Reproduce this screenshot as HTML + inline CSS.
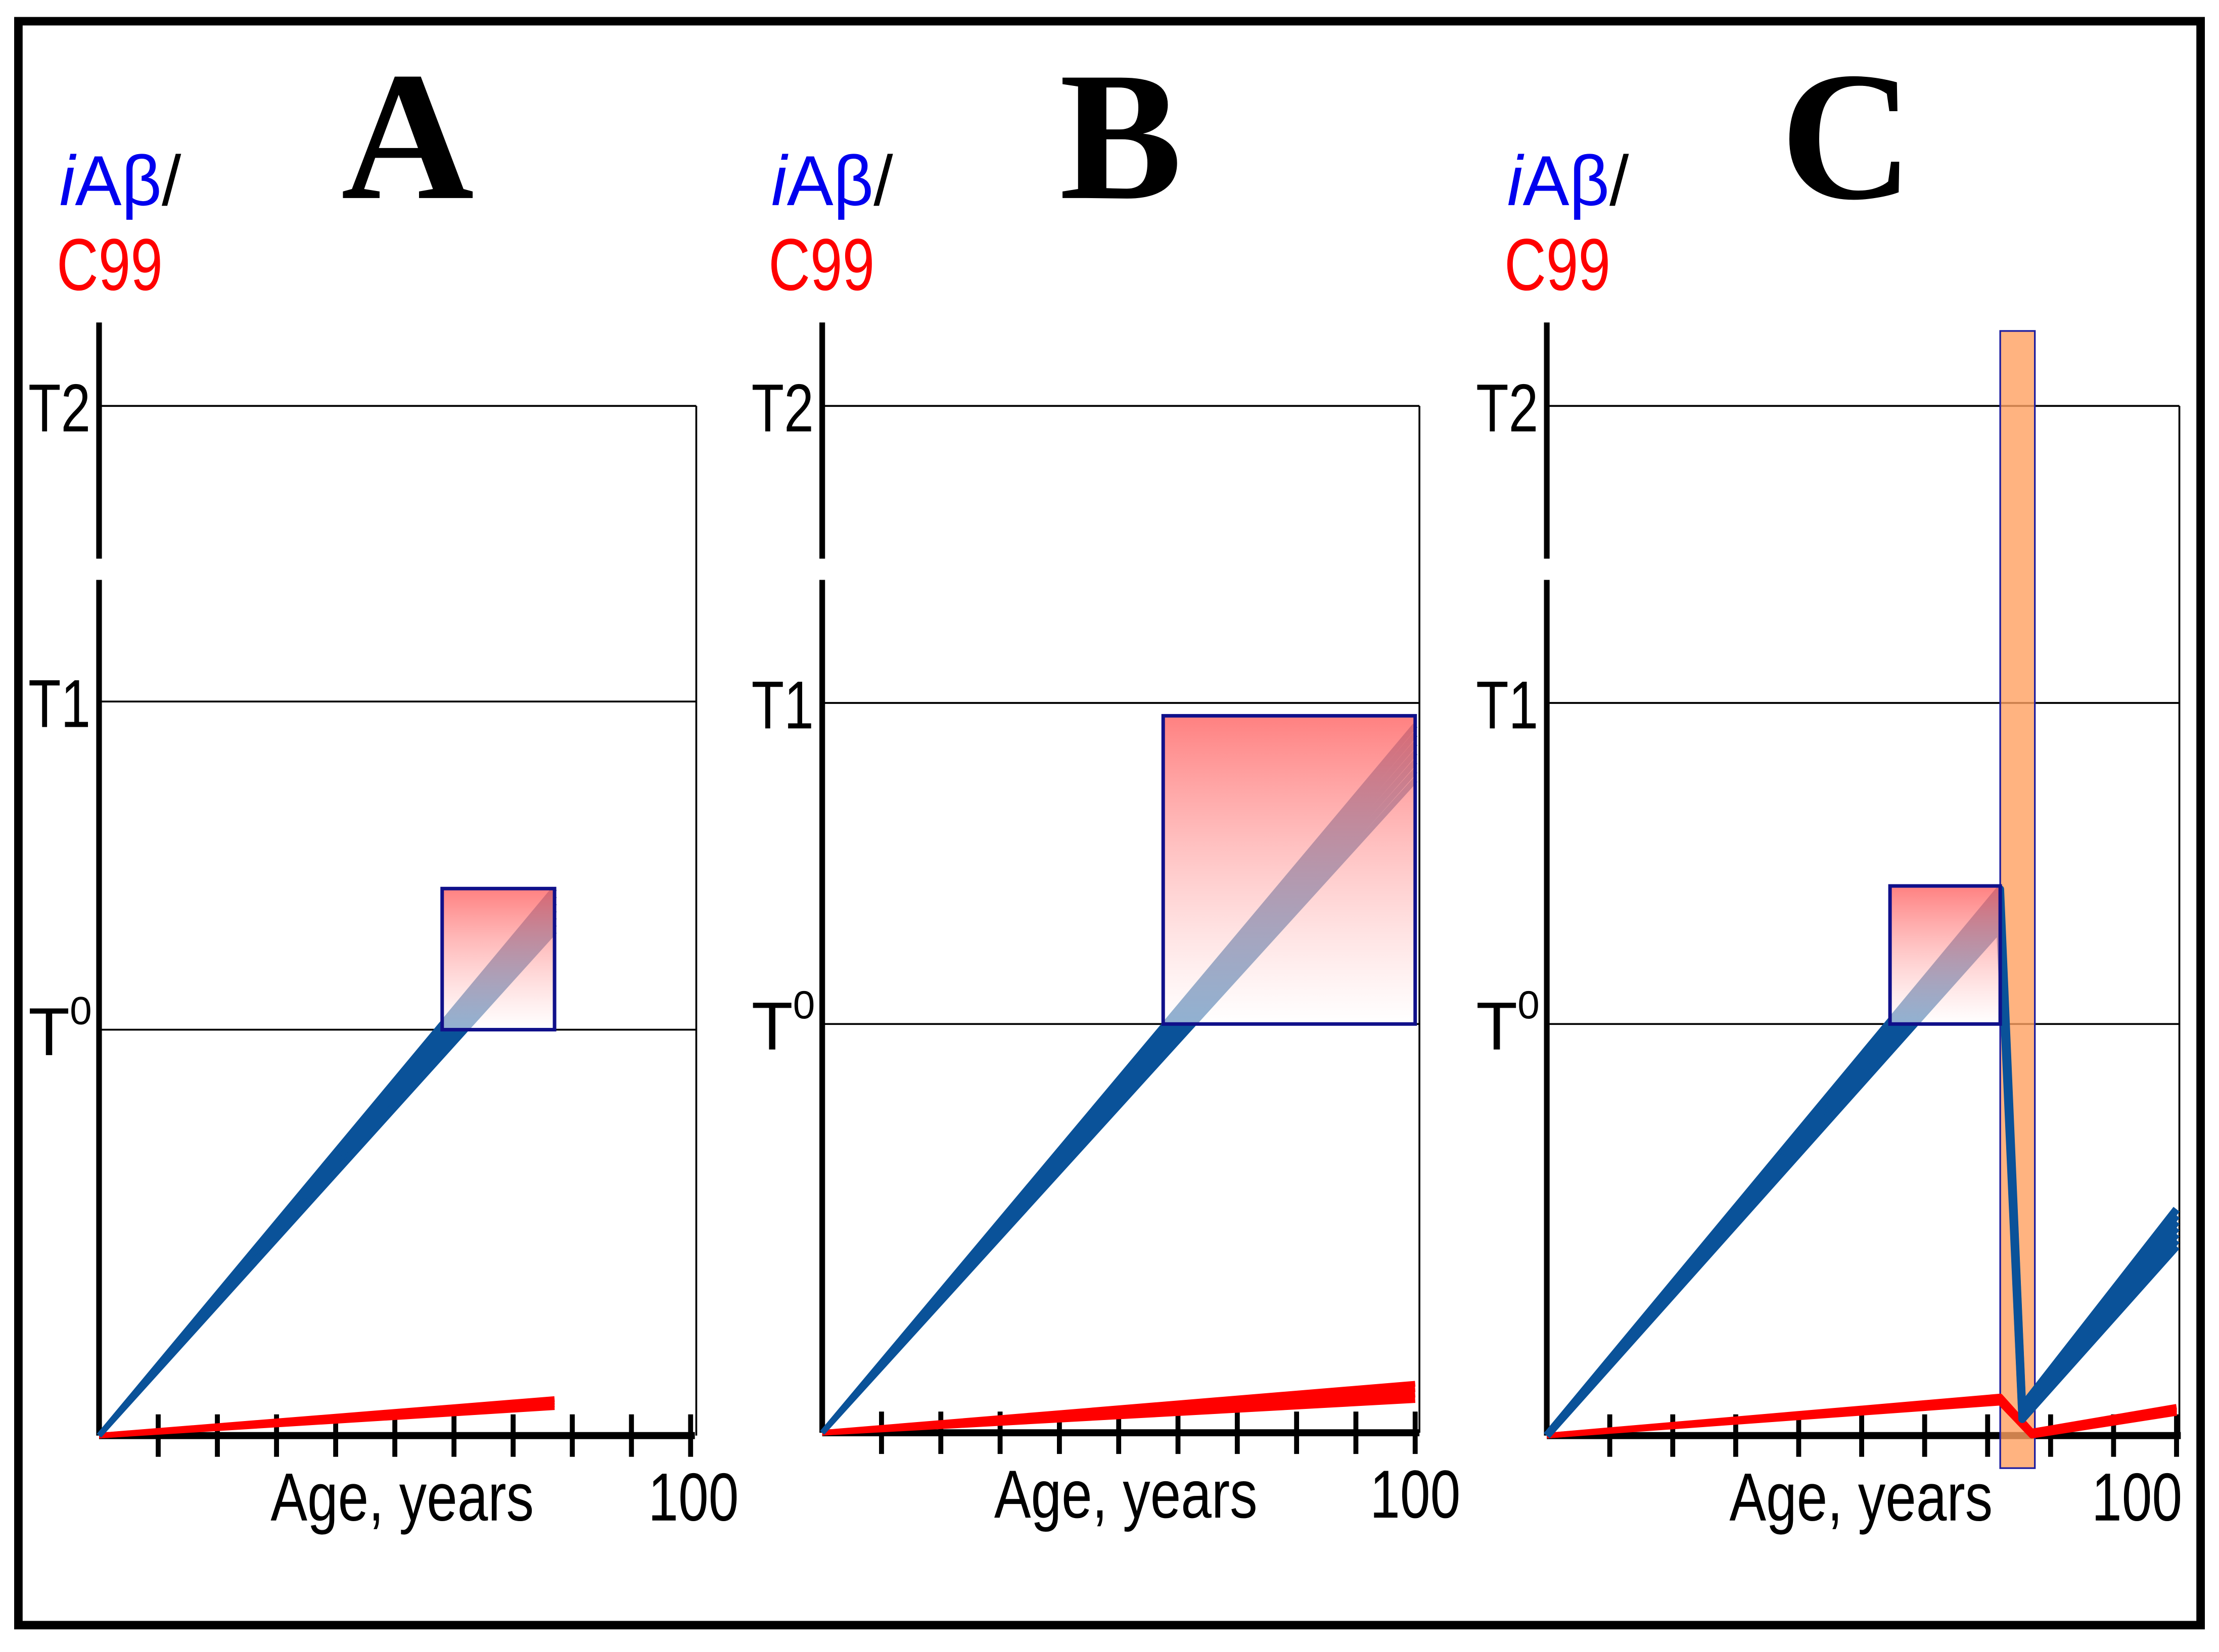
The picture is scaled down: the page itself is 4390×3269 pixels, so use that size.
<!DOCTYPE html>
<html><head><meta charset="utf-8"><style>
html,body{margin:0;padding:0;background:#fff;}
svg{display:block;}
text{font-family:"Liberation Sans","DejaVu Sans",sans-serif;}
</style></head><body>
<svg id="fig" width="4390" height="3269" viewBox="0 0 1568 1168" preserveAspectRatio="none" xmlns="http://www.w3.org/2000/svg">
<defs>
<linearGradient id="rg" x1="0" y1="0" x2="0" y2="1">
<stop offset="0" stop-color="#ff6a6a" stop-opacity="0.85"/>
<stop offset="1" stop-color="#ffffff" stop-opacity="0.55"/>
</linearGradient>
</defs>
<rect x="13" y="15" width="1542" height="1134" fill="none" stroke="#000" stroke-width="6"/>
<g id="panels"></g>
</svg>
<script>
// data arrays
const panelLetters = ["A","B","C"];
const tickAges = [10,20,30,40,50,60,70,80,90,100];
const levelNames = ["T0","T1","T2"];
const blueAgesA = [0,77], blueHiA = [0,1.43], blueLoA = [0,1.3];
const blueAgesB = [0,100], blueHiB = [0,1.93], blueLoB = [0,1.76];
const blueAgesC = [0,72,75.5,100], blueHiC = [0,1.42,0.07,0.55], blueLoC = [0,1.3,0.04,0.46];
const redAgesA = [0,77], redHiA = [0,0.09], redLoA = [0,0.07];
const redAgesB = [0,100], redHiB = [0,0.12], redLoB = [0,0.08];
const redAgesC = [0,72,77,100], redHiC = [0,0.095,0.01,0.07], redLoC = [0,0.08,0.0,0.055];
const boxAges = [[58,77],[57.5,100],[54.5,72]];
const boxVals = [[1,1.43],[1,1.96],[1,1.43]];
const treatAges = [72,77.5];

// layout (non-data)
const L = [
 {x0:70,x1:488,ax:1015,ly:[1015,728,496,287],right:492,title:288,lab:42,hx:458,bw:4},
 {x0:581,x1:1000,ax:1013,ly:[1013,724,497,287],right:1003,title:792,lab:545,hx:968,bw:4},
 {x0:1093,x1:1538,ax:1015,ly:[1015,724,497,287],right:1540,title:1305,lab:1065,hx:1478,bw:5.5}
];
const blue=[[blueAgesA,blueHiA,blueLoA],[blueAgesB,blueHiB,blueLoB],[blueAgesC,blueHiC,blueLoC]];
const red=[[redAgesA,redHiA,redLoA],[redAgesB,redHiB,redLoB],[redAgesC,redHiC,redLoC]];
const NS="http://www.w3.org/2000/svg";
const G=document.getElementById('panels');
function mk(tag,attrs,parent){const e=document.createElementNS(NS,tag);for(const k in attrs)e.setAttribute(k,attrs[k]);(parent||G).appendChild(e);return e;}
L.forEach((p,i)=>{
 const xs=a=>p.x0+(p.x1-p.x0)*a/100;
 const ys=v=>{const k=Math.min(Math.floor(v),2);return p.ly[k]-(v-k)*(p.ly[k]-p.ly[k+1]);};
 const g=mk('g',{});
 
 
 let t=mk('text',{x:p.title,y:140,'font-size':130,'font-weight':'bold','text-anchor':'middle',style:'font-family:"Liberation Serif",serif'},g);t.textContent=panelLetters[i];
 
 t=mk('text',{x:p.lab,y:145,'font-size':50,textLength:86,lengthAdjust:'spacingAndGlyphs'},g);
 t.innerHTML='<tspan fill="#0000ee" font-style="italic">i</tspan><tspan fill="#0000ee">Aβ</tspan><tspan fill="#000">/</tspan>';
 
 t=mk('text',{x:p.lab-2,y:205,'font-size':52,fill:'#ff0000',textLength:75,lengthAdjust:'spacingAndGlyphs'},g);t.textContent='C99';
 
 [1,2,3].forEach(k=>{
  const l=mk('line',{x1:p.x0,x2:p.right,y1:p.ly[k],y2:p.ly[k],stroke:'#000','stroke-width':1.3},g);
  
  const tx=mk('text',{x:p.x0-50,y:p.ly[k]+18,'font-size':48},g);
  if(k==1){tx.innerHTML='T<tspan font-size="28" dy="-22">0</tspan>';}else{tx.textContent=levelNames[k-1];tx.setAttribute('textLength',44);tx.setAttribute('lengthAdjust','spacingAndGlyphs');}
  
 });
 const rl=mk('line',{x1:p.right,x2:p.right,y1:p.ly[3],y2:p.ax,stroke:'#000','stroke-width':1.3},g);
 
 let ya=mk('line',{x1:p.x0,x2:p.x0,y1:228,y2:395,stroke:'#000','stroke-width':4},g);
 
 ya=mk('line',{x1:p.x0,x2:p.x0,y1:410,y2:p.ax,stroke:'#000','stroke-width':4},g);
 
 const xa=mk('line',{x1:p.x0,x2:xs(100)+3,y1:p.ax,y2:p.ax,stroke:'#000','stroke-width':5},g);
 
 tickAges.forEach(a=>{const tk=mk('line',{x1:xs(a),x2:xs(a),y1:p.ax-15,y2:p.ax+15,stroke:'#000','stroke-width':3.5},g);
  });
 t=mk('text',{x:xs(29),y:p.ax+60,'font-size':48,textLength:186,lengthAdjust:'spacingAndGlyphs'},g);t.textContent='Age, years';
 
 t=mk('text',{x:p.hx,y:p.ax+60,'font-size':48,textLength:64,lengthAdjust:'spacingAndGlyphs'},g);t.textContent='100';
 
 if(i==2){const tr=mk('rect',{x:xs(treatAges[0]),y:234,width:xs(treatAges[1])-xs(treatAges[0]),height:804,fill:'#ffa060','fill-opacity':0.8,stroke:'#2020a0','stroke-width':1.2},g);
  }
 function band(set,col,name,n,w){const [ag,hi,lo]=set;
  for(let s=0;s<=n;s++){const f=s/n;
   const d='M'+ag.map((a,j)=>xs(a)+','+ys(hi[j]+(lo[j]-hi[j])*f)).join(' L');
   const b=mk('path',{d:d,fill:'none',stroke:col,'stroke-width':w,'stroke-linejoin':'round'},g);
   }}
 band(red[i],'#ff0000','c99-line',3,4);
 band(blue[i],'#0a5299','iabeta-line',6,p.bw);
 const bx=mk('rect',{x:xs(boxAges[i][0]),y:ys(boxVals[i][1]),width:xs(boxAges[i][1])-xs(boxAges[i][0]),height:ys(boxVals[i][0])-ys(boxVals[i][1]),fill:'url(#rg)',stroke:'#10108a','stroke-width':2.5},g);
 
});
</script>
</body></html>
